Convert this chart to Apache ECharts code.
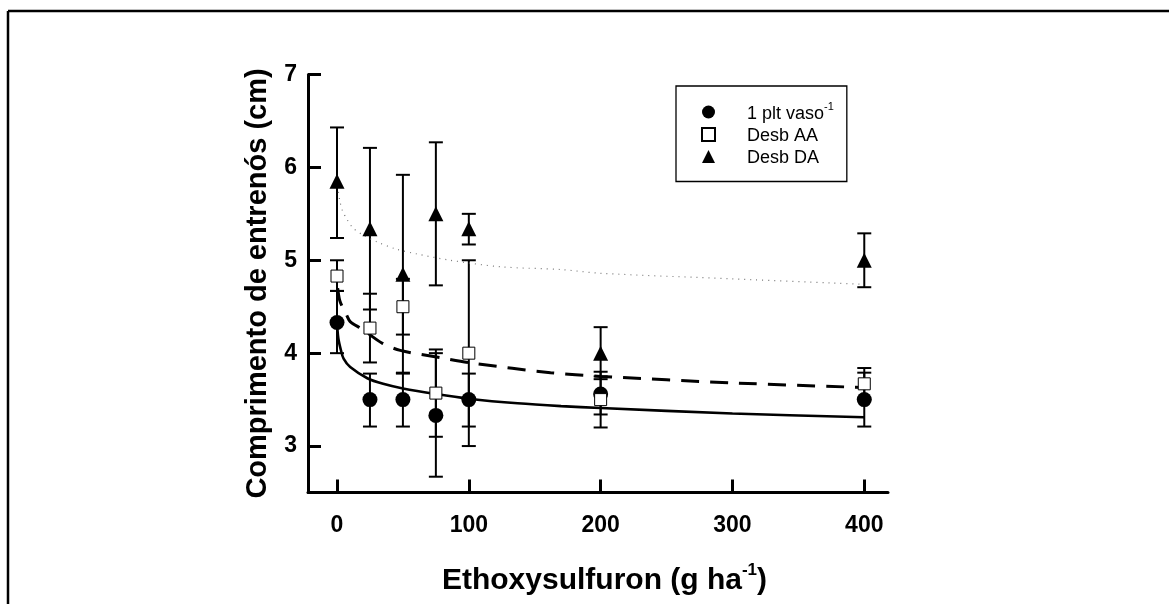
<!DOCTYPE html>
<html>
<head>
<meta charset="utf-8">
<script src="https://cdn.jsdelivr.net/npm/echarts@6/dist/echarts.min.js"></script>
<style>
html,body{margin:0;padding:0;background:#fff;}
#chart{width:1169px;height:604px;}
</style>
</head>
<body>
<div id="chart"></div>
<script>
// ---- data ----
const doses = [0, 25, 50, 75, 100, 200, 400];

const plantMean = [4.33, 3.5, 3.5, 3.33, 3.5, 3.56, 3.5];
const plantLow  = [4.0, 3.21, 3.21, 2.67, 3.21, 3.34, 3.21];
const plantHigh = [4.67, 3.78, 3.79, 4.0, 3.78, 3.75, 3.79];

const aaMean = [4.83, 4.27, 4.5, 3.57, 4.0, 3.5, 3.67];
const aaLow  = [4.67, 3.9, 4.2, 3.1, 3.0, 3.2, 3.5];
const aaHigh = [5.0, 4.64, 4.8, 4.04, 5.0, 3.8, 3.84];

const daMean = [5.85, 5.34, 4.85, 5.5, 5.34, 4.0, 5.0];
const daLow  = [5.24, 4.47, 3.78, 4.73, 5.17, 3.72, 4.71];
const daHigh = [6.43, 6.21, 5.92, 6.27, 5.5, 4.28, 5.29];

// fitted curves
const fitPlantX = [0, 1, 3, 5, 10, 23, 35, 50, 75, 100, 137, 170, 200, 300, 400];
const fitPlantY = [4.33, 4.16, 4.03, 3.94, 3.85, 3.73, 3.67, 3.62, 3.56, 3.51, 3.46, 3.43, 3.41, 3.35, 3.31];

const fitAAX = [0.5, 2, 4, 7, 10, 19, 34, 48, 79, 104, 162, 200, 300, 400];
const fitAAY = [4.7, 4.57, 4.5, 4.42, 4.34, 4.26, 4.11, 4.03, 3.95, 3.89, 3.79, 3.75, 3.68, 3.63];

const fitDAX = [0.5, 2, 4, 8, 12.7, 20, 30, 45, 60, 86, 124, 170, 200, 300, 400];
const fitDAY = [5.8, 5.65, 5.54, 5.43, 5.34, 5.27, 5.2, 5.12, 5.07, 5.0, 4.93, 4.9, 4.86, 4.8, 4.74];

const xTicks = [0, 100, 200, 300, 400];
const yTicks = [3, 4, 5, 6, 7];

const seriesNames = ['1 plt vaso-1', 'Desb AA', 'Desb DA'];

// ---- helpers ----
const zip = (a, b) => a.map((v, i) => [v, b[i]]);
const zip3 = (a, b, c) => a.map((v, i) => [v, b[i], c[i]]);
const FONT = "'Liberation Sans', Arial, Helvetica, sans-serif";

function errRender(params, api) {
  const x = api.value(0), lo = api.value(1), hi = api.value(2);
  const pL = api.coord([x, lo]), pH = api.coord([x, hi]);
  const w = 7;
  const st = {stroke: '#000', lineWidth: 2};
  return {
    type: 'group',
    children: [
      {type: 'line', shape: {x1: pL[0], y1: pL[1], x2: pH[0], y2: pH[1]}, style: st},
      {type: 'line', shape: {x1: pL[0] - w, y1: pL[1], x2: pL[0] + w, y2: pL[1]}, style: st},
      {type: 'line', shape: {x1: pH[0] - w, y1: pH[1], x2: pH[0] + w, y2: pH[1]}, style: st}
    ]
  };
}

function errSeries(name, lo, hi) {
  return {
    type: 'custom', name: name, renderItem: errRender,
    data: zip3(doses, lo, hi), encode: {x: 0, y: [1, 2]}, z: 2, silent: true
  };
}

const chart = echarts.init(document.getElementById('chart'), null, {renderer: 'canvas'});
chart.setOption({
  animation: false,
  backgroundColor: '#fff',
  textStyle: {fontFamily: FONT},
  grid: {left: 308, right: 281, top: 74.5, bottom: 111.5},
  graphic: [
    {type: 'line', shape: {x1: 8, y1: 11, x2: 8, y2: 604}, style: {stroke: '#000', lineWidth: 2.5}},
    {type: 'line', shape: {x1: 8, y1: 11, x2: 1169, y2: 11}, style: {stroke: '#000', lineWidth: 2.5}}
  ],
  xAxis: {
    type: 'value', min: -22, max: 418,
    name: '{a|Ethoxysulfuron (g ha}{s|-1}{a|)}',
    nameLocation: 'middle', nameGap: 69,
    nameTextStyle: {
      padding: [0, 0, 0, 13],
      rich: {
        a: {fontSize: 30, fontWeight: 'bold', color: '#000', fontFamily: FONT, lineHeight: 34, verticalAlign: 'bottom'},
        s: {fontSize: 17, fontWeight: 'bold', color: '#000', fontFamily: FONT, verticalAlign: 'top', lineHeight: 34}
      }
    },
    axisLine: {onZero: false, lineStyle: {color: '#000', width: 3}},
    axisTick: {inside: true, length: 13, lineStyle: {color: '#000', width: 3}, customValues: xTicks},
    axisLabel: {customValues: xTicks, color: '#000', fontSize: 23, fontWeight: 'bold', fontFamily: FONT, margin: 22},
    splitLine: {show: false}
  },
  yAxis: {
    type: 'value', min: 2.5, max: 7,
    name: 'Comprimento de entrenós (cm)',
    nameLocation: 'middle', nameGap: 36,
    nameTextStyle: {fontSize: 29, fontWeight: 'bold', color: '#000', fontFamily: FONT},
    axisLine: {onZero: false, lineStyle: {color: '#000', width: 3}},
    axisTick: {inside: true, length: 13, lineStyle: {color: '#000', width: 3}, customValues: yTicks},
    axisLabel: {customValues: yTicks, color: '#000', fontSize: 23, fontWeight: 'bold', fontFamily: FONT, margin: 11},
    splitLine: {show: false}
  },
  legend: {
    orient: 'vertical', left: 676, top: 86,
    padding: [15, 13, 14, 25],
    borderColor: '#000', borderWidth: 1.3, backgroundColor: '#fff',
    itemWidth: 13, itemHeight: 13, itemGap: 4,
    data: seriesNames,
    formatter: function (n) {
      if (n === seriesNames[0]) return '{g|}{t|1 plt vaso}{s|-1}';
      return '{g|}{t|' + n + '}';
    },
    textStyle: {
      rich: {
        g: {width: 27},
        t: {fontSize: 18, color: '#000', fontFamily: FONT, lineHeight: 22, verticalAlign: 'bottom'},
        s: {fontSize: 11, color: '#000', fontFamily: FONT, lineHeight: 22, verticalAlign: 'top'}
      }
    }
  },
  series: [
    errSeries('err1', plantLow, plantHigh),
    errSeries('err2', aaLow, aaHigh),
    errSeries('err3', daLow, daHigh),
    {type: 'line', name: 'fit1', data: zip(fitPlantX, fitPlantY), symbol: 'none', smooth: 0.3,
      lineStyle: {color: '#000', width: 2.6, type: 'solid'}, z: 3, silent: true},
    {type: 'line', name: 'fit2', data: zip(fitAAX, fitAAY), symbol: 'none', smooth: 0.3,
      lineStyle: {color: '#000', width: 3, type: [18, 11]}, z: 3, silent: true},
    {type: 'line', name: 'fit3', data: zip(fitDAX, fitDAY), symbol: 'none', smooth: 0.3,
      lineStyle: {color: '#777', width: 1.2, type: [1, 5]}, z: 3, silent: true},
    {type: 'scatter', name: seriesNames[0], data: zip(doses, plantMean), symbol: 'circle', symbolSize: 15,
      itemStyle: {color: '#000', opacity: 1}, z: 5},
    {type: 'scatter', name: seriesNames[1], data: zip(doses, aaMean), symbol: 'rect', symbolSize: 12,
      itemStyle: {color: '#fff', borderColor: '#000', borderWidth: 1, opacity: 1}, z: 6},
    {type: 'scatter', name: seriesNames[2], data: zip(doses, daMean), symbol: 'triangle', symbolSize: 15,
      itemStyle: {color: '#000', opacity: 1}, z: 5}
  ]
});
</script>
</body>
</html>
